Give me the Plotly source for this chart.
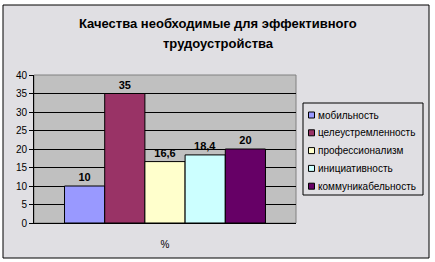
import plotly.graph_objects as go

categories = ["%"]
series_names = ["мобильность", "целеустремленность", "профессионализм", "инициативность", "коммуникабельность"]
series_values = [10, 35, 16.6, 18.4, 20]
value_labels = ["10", "35", "16,6", "18,4", "20"]
colors = ["#9999FF", "#993366", "#FFFFCC", "#CCFFFF", "#660066"]
y_ticks = [0, 5, 10, 15, 20, 25, 30, 35, 40]
title_lines = ["Качества необходимые для эффективного", "трудоустройства"]

W, H = 435, 262
L, R, T, B = 34, 139, 75, 39
pw, ph = W - L - R, H - T - B

def px(x):
    return (x - L) / pw

def py(y):
    return (H - B - y) / ph

font = "Liberation Sans, Arial, sans-serif"
fig = go.Figure()
for name, v, lab, c in zip(series_names, series_values, value_labels, colors):
    fig.add_trace(go.Bar(
        x=categories, y=[v], name=name, text=[lab], textposition="outside",
        textfont=dict(family=font, size=11, color="black"),
        texttemplate="<b>%{text}</b>", cliponaxis=False, showlegend=False,
        marker=dict(color=c, line=dict(color="black", width=1)),
    ))

shapes = [
    dict(type="rect", xref="paper", yref="paper", x0=px(3), x1=px(429), y0=py(258), y1=py(5),
         fillcolor="#E0DFE3", line=dict(color="black", width=1), layer="below"),
    dict(type="rect", xref="paper", yref="paper", x0=0, x1=1, y0=0, y1=1,
         fillcolor="#C0C0C0", line=dict(color="#808080", width=1), layer="below"),
    # legend box
    dict(type="rect", xref="paper", yref="paper", x0=px(303), x1=px(423), y0=py(195), y1=py(103),
         fillcolor="#E0DFE3", line=dict(color="black", width=1), layer="above"),
]
annotations = []
for i, t in enumerate(title_lines):
    annotations.append(dict(text=f"<b>{t}</b>", xref="paper", yref="paper", x=px(218), y=py(23 + 20 * i),
                            xanchor="center", yanchor="middle", showarrow=False,
                            font=dict(family=font, size=13, color="black")))
for i, (name, c) in enumerate(zip(series_names, colors)):
    yc = 115 + 17.8 * i
    shapes.append(dict(type="rect", xref="paper", yref="paper", x0=px(308.5), x1=px(314.5),
                       y0=py(yc + 3), y1=py(yc - 3), fillcolor=c,
                       line=dict(color="black", width=1), layer="above"))
    annotations.append(dict(text=name, xref="paper", yref="paper", x=px(316), y=py(yc),
                            xanchor="left", yanchor="middle", showarrow=False,
                            font=dict(family=font, size=10, color="black")))

fig.update_layout(
    width=W, height=H,
    margin=dict(l=L, r=R, t=T, b=B, pad=0, autoexpand=False),
    paper_bgcolor="white", plot_bgcolor="#C0C0C0",
    barmode="group", bargap=0.233, bargroupgap=0,
    font=dict(family=font, size=10, color="black"),
    showlegend=False,
    xaxis=dict(showgrid=False, showline=True, linecolor="black", linewidth=1,
               ticks="", tickfont=dict(family=font, size=10), ticklabelstandoff=12, fixedrange=True),
    yaxis=dict(range=[0, 40], tickvals=y_ticks, showgrid=True, gridcolor="black",
               gridwidth=1, showline=True, linecolor="black", linewidth=1,
               ticks="outside", ticklen=4, tickcolor="black", zeroline=False,
               tickfont=dict(family=font, size=10)),
    shapes=shapes,
    annotations=annotations,
)
fig.write_html("out.html")
